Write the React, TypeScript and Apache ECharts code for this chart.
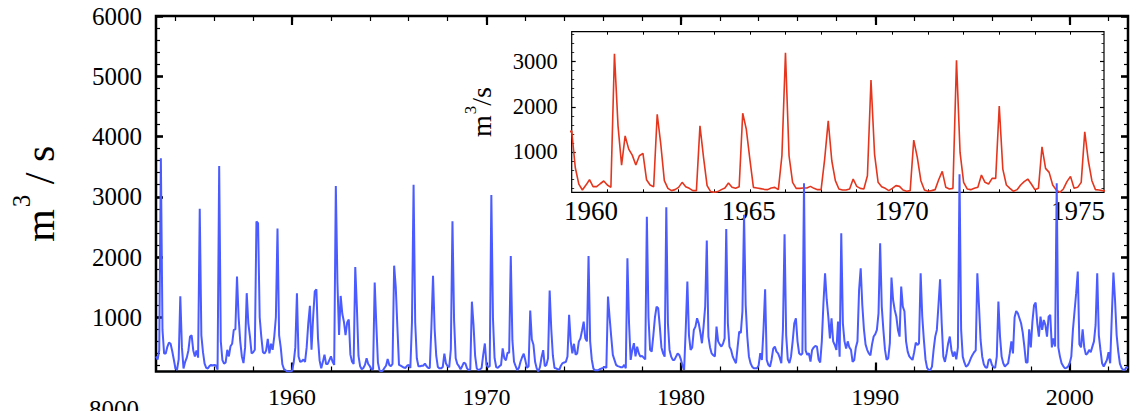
import React, { useEffect, useRef } from "react";
import * as echarts from "echarts";

// ---------- DATA (monthly discharge, m^3/s) ----------
const startYear = 1953;

const flow1950s = [
  350, 300, 450, 3640, 790, 400, 400, 510, 580, 560, 440, 300, // 1953
  150, 130, 300, 1350, 500, 150, 260, 330, 450, 680, 700, 450, // 1954
  350, 450, 330, 2800, 700, 420, 230, 160, 150, 190, 210, 200, // 1955
  210, 200, 130, 3510, 600, 290, 230, 250, 460, 350, 520, 560, // 1956
  790, 800, 1675, 1000, 600, 350, 240, 500, 1400, 900, 680, 400, // 1957
  420, 460, 2590, 2560, 1000, 680, 420, 400, 450, 640, 400, 560, // 1958
  460, 680, 1000, 2475, 700, 500, 220, 140, 120, 100, 100, 100, // 1959
];
const flow1960s = [
  110, 250, 500, 1400, 350, 260, 270, 300, 260, 500, 900, 1190, // 1960
  460, 1000, 1430, 1465, 650, 280, 152, 260, 380, 225, 225, 290, // 1961
  351, 262, 210, 3177, 1576, 705, 1354, 1059, 926, 705, 912, 963, // 1962
  380, 262, 225, 1834, 1170, 358, 188, 137, 159, 210, 321, 225, // 1963
  188, 137, 137, 1576, 875, 248, 115, 100, 115, 159, 196, 306, // 1964
  210, 188, 225, 1856, 1502, 838, 210, 196, 181, 166, 159, 196, // 1965
  210, 159, 912, 3200, 912, 321, 188, 188, 196, 196, 232, 188, // 1966
  159, 159, 838, 1687, 801, 358, 174, 152, 152, 174, 395, 232, // 1967
  188, 174, 469, 2594, 949, 321, 225, 188, 137, 188, 248, 232, // 1968
  152, 122, 137, 1259, 875, 358, 152, 122, 137, 159, 380, 565, // 1969
];
const flow1970s = [
  210, 174, 188, 3030, 986, 321, 174, 159, 188, 210, 483, 321, // 1970
  285, 410, 410, 2018, 616, 262, 188, 122, 159, 262, 336, 395, // 1971
  285, 159, 188, 1111, 631, 543, 262, 152, 100, 174, 336, 454, // 1972
  188, 210, 321, 1443, 801, 358, 159, 152, 137, 130, 200, 240, // 1973
  250, 260, 350, 1040, 600, 400, 560, 380, 400, 596, 650, 780, // 1974
  928, 650, 600, 2017, 600, 300, 150, 120, 120, 120, 140, 150, // 1975
  160, 180, 160, 1343, 1000, 679, 375, 292, 210, 190, 180, 170, // 1976
  170, 210, 154, 1979, 900, 292, 458, 569, 350, 513, 403, 347, // 1977
  360, 330, 300, 2670, 1000, 458, 430, 700, 1000, 1177, 1149, 845, // 1978
  500, 403, 347, 2825, 900, 458, 347, 292, 292, 347, 400, 375, // 1979
];
const flow1980s = [
  300, 200, 126, 800, 1592, 700, 458, 500, 790, 845, 983, 900, // 1980
  750, 569, 845, 1177, 2272, 680, 500, 400, 370, 350, 845, 600, // 1981
  550, 513, 560, 650, 2465, 900, 513, 458, 347, 290, 237, 500, // 1982
  762, 740, 1100, 2700, 1200, 679, 350, 237, 180, 154, 154, 154, // 1983
  200, 403, 292, 800, 1464, 290, 210, 180, 300, 480, 513, 430, // 1984
  400, 330, 237, 800, 2377, 700, 300, 240, 350, 600, 900, 983, // 1985
  600, 403, 375, 400, 3223, 450, 375, 403, 264, 458, 500, 525, // 1986
  513, 300, 250, 600, 1232, 1730, 1300, 1011, 650, 983, 600, 540, // 1987
  458, 928, 347, 2393, 900, 600, 480, 600, 500, 460, 260, 290, // 1988
  500, 600, 1453, 1813, 1200, 800, 550, 460, 400, 370, 550, 680, // 1989
];
const flow1990s = [
  720, 790, 1066, 2228, 1177, 790, 458, 292, 320, 570, 1658, 1287, // 1990
  1122, 1011, 790, 679, 1509, 1177, 1100, 600, 430, 350, 320, 292, // 1991
  420, 580, 540, 569, 1730, 1011, 624, 300, 160, 126, 126, 182, // 1992
  458, 679, 790, 1200, 1630, 900, 350, 260, 400, 570, 679, 458, // 1993
  347, 430, 303, 500, 3372, 790, 347, 250, 182, 200, 250, 320, // 1994
  375, 420, 450, 1730, 1200, 624, 350, 220, 170, 160, 292, 303, // 1995
  210, 170, 160, 347, 1260, 679, 347, 237, 182, 210, 237, 400, // 1996
  600, 400, 1000, 1105, 1066, 983, 900, 750, 520, 250, 250, 800, // 1997
  500, 928, 1200, 1243, 900, 679, 1011, 790, 955, 873, 679, 1011, // 1998
  1039, 500, 650, 513, 3223, 500, 347, 237, 190, 154, 160, 182, // 1999
];
const flow2000s = [
  237, 347, 790, 1100, 1400, 1758, 550, 500, 800, 500, 380, 400, // 2000
  458, 420, 513, 600, 873, 1730, 700, 458, 237, 182, 237, 292, // 2001
  420, 237, 1011, 1741, 1287, 700, 430, 230, 160, 126, 130, 170, // 2002
  160, // 2003 Jan
];

// axis tick labels
const mainYTickLabels = [1000, 2000, 3000, 4000, 5000, 6000];
const mainXTickLabels = [1960, 1970, 1980, 1990, 2000];
const insetYTickLabels = [1000, 2000, 3000];
const insetXTickLabels = ["1960", "1965", "1970", "1975"];
const insetXLabelAt = [1961.7, 1965.39, 1968.97, 1973.09];

// ---------- helpers ----------
const FONT = '"Liberation Serif", "Times New Roman", serif';
const BLUE = "#4a5cff";
const RED = "#e4361e";

const allFlows = [...flow1950s, ...flow1960s, ...flow1970s, ...flow1980s, ...flow1990s, ...flow2000s];
const blueData: [number, number][] = allFlows.map((v, i) => [startYear + i / 12, v]);

const INSET_MIN = 1961.25;
const INSET_MAX = 1973.7;
const redData = blueData.filter(([x]) => x >= INSET_MIN - 0.1 && x <= INSET_MAX + 0.1);

const range = (a: number, b: number, s: number) => {
  const out: number[] = [];
  for (let v = a; v <= b + 1e-9; v += s) out.push(Math.round(v * 1000) / 1000);
  return out;
};
const mainXMinor = range(1954, 2002, 2);
const mainYMinor = range(200, 6000, 200);
const insetYMinor = range(200, 3600, 200);
const insetXTicks = range(1, 14, 1).map((k) => INSET_MIN + (k * 10) / 12);

function xAx(grid: number, position: string, min: number, max: number, ticks: number[], len: number, w: number, labels?: any) {
  return {
    type: "value",
    gridIndex: grid,
    position,
    min,
    max,
    axisLine: { show: false, onZero: false },
    splitLine: { show: false },
    axisTick: { show: true, inside: true, length: len, lineStyle: { color: "#000", width: w }, customValues: ticks },
    axisLabel: labels ? labels : { show: false },
  };
}
function yAx(grid: number, position: string, min: number, max: number, ticks: number[], len: number, w: number, extra?: any) {
  return {
    type: "value",
    gridIndex: grid,
    position,
    min,
    max,
    axisLine: { show: false, onZero: false },
    splitLine: { show: false },
    axisTick: { show: true, inside: true, length: len, lineStyle: { color: "#000", width: w }, customValues: ticks },
    axisLabel: { show: false },
    ...(extra || {}),
  };
}

export default function App() {
  const ref = useRef<HTMLDivElement>(null);
  useEffect(() => {
    if (!ref.current) return;
    const chart = echarts.init(ref.current, null, { renderer: "svg" });
    const mainXLabel = {
      show: true,
      customValues: mainXTickLabels,
      formatter: (v: number) => String(Math.round(v)),
      fontSize: 24,
      fontFamily: FONT,
      color: "#000",
      margin: 13,
    };
    const insetXLabel = {
      show: true,
      customValues: insetXLabelAt,
      formatter: (v: number) => {
        let best = 0;
        insetXLabelAt.forEach((p, i) => {
          if (Math.abs(p - v) < Math.abs(insetXLabelAt[best] - v)) best = i;
        });
        return insetXTickLabels[best];
      },
      fontSize: 27,
      fontFamily: FONT,
      color: "#000",
      margin: 5,
    };
    const option: any = {
      animation: false,
      backgroundColor: "#fff",
      grid: [
        {
          left: 156, top: 16, right: 7, bottom: 39.5, show: true, borderColor: "#000", borderWidth: 2.5,
          backgroundColor: "transparent", containLabel: false, outerBoundsMode: "none",
        },
        {
          left: 571.7, top: 31.7, right: 31, bottom: 218.7, show: true, borderColor: "#000", borderWidth: 1.2,
          backgroundColor: "transparent", containLabel: false, outerBoundsMode: "none",
        },
      ],
      xAxis: [
        xAx(0, "bottom", 1953, 2003, mainXTickLabels, 9, 2.2, mainXLabel),
        xAx(0, "bottom", 1953, 2003, mainXMinor, 5, 1.2),
        xAx(0, "top", 1953, 2003, mainXTickLabels, 9, 2.2),
        xAx(0, "top", 1953, 2003, mainXMinor, 5, 1.2),
        xAx(1, "bottom", INSET_MIN, INSET_MAX, insetXTicks, 3, 1, insetXLabel),
        xAx(1, "top", INSET_MIN, INSET_MAX, insetXTicks, 3, 1),
      ],
      yAxis: [
        yAx(0, "left", 100, 6000, mainYTickLabels, 7, 2.6, {
          axisLabel: {
            show: true,
            customValues: mainYTickLabels,
            formatter: (v: number) => String(Math.round(v)),
            fontSize: 25,
            fontFamily: FONT,
            color: "#000",
            margin: 14,
          },
          name: "{b|m}{sup|3}{b| / s}",
          nameLocation: "middle",
          nameRotate: 90,
          nameGap: 95,
          nameTextStyle: {
            fontSize: 42,
            fontFamily: FONT,
            color: "#000",
            rich: {
              b: { fontSize: 42, fontFamily: FONT, color: "#000", lineHeight: 52, verticalAlign: "bottom" },
              sup: { fontSize: 25, fontFamily: FONT, color: "#000", lineHeight: 25, verticalAlign: "top", padding: [0, 0, 0, 2] },
            },
          },
        }),
        yAx(0, "left", 100, 6000, mainYMinor, 4, 1.2),
        yAx(0, "right", 100, 6000, mainYTickLabels, 7, 2.6),
        yAx(0, "right", 100, 6000, mainYMinor, 4, 1.2),
        yAx(1, "left", 100, 3667, insetYTickLabels, 4, 1.2, {
          axisLabel: {
            show: true,
            customValues: insetYTickLabels,
            formatter: (v: number) => String(Math.round(v)),
            fontSize: 22.5,
            fontFamily: FONT,
            color: "#000",
            margin: 14,
          },
          name: "{b|m}{sup|3}{b|/s}",
          nameLocation: "middle",
          nameRotate: 90,
          nameGap: 76,
          nameTextStyle: {
            fontSize: 28,
            fontFamily: FONT,
            color: "#000",
            rich: {
              b: { fontSize: 28, fontFamily: FONT, color: "#000", lineHeight: 34, verticalAlign: "bottom" },
              sup: { fontSize: 17, fontFamily: FONT, color: "#000", lineHeight: 17, verticalAlign: "top", padding: [0, 0, 0, 1] },
            },
          },
        }),
        yAx(1, "left", 100, 3667, insetYMinor, 2.5, 0.8),
        yAx(1, "right", 100, 3667, insetYTickLabels, 4, 1.2),
        yAx(1, "right", 100, 3667, insetYMinor, 2.5, 0.8),
      ],
      series: [
        {
          type: "line",
          name: "inset",
          xAxisIndex: 4,
          yAxisIndex: 4,
          data: redData,
          showSymbol: false,
          clip: true,
          lineStyle: { color: RED, width: 1.6 },
          z: 3,
        },
        {
          type: "line",
          name: "flow",
          xAxisIndex: 0,
          yAxisIndex: 0,
          data: blueData,
          showSymbol: false,
          clip: true,
          lineStyle: { color: BLUE, width: 2 },
          z: 4,
        },
      ],
      graphic: [
        {
          type: "text",
          x: 139,
          y: 397,
          style: { text: "8000", fontSize: 25, fontFamily: FONT, fill: "#000", align: "right", verticalAlign: "top" },
        },
      ],
    };
    chart.setOption(option);
    return () => chart.dispose();
  }, []);
  return <div ref={ref} style={{ position: "fixed", left: 0, top: 0, width: 1135, height: 411, background: "#fff" }} />;
}
